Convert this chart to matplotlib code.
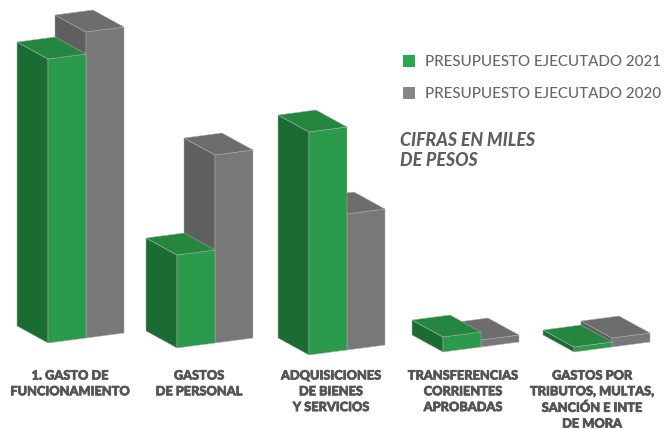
import matplotlib
matplotlib.use("Agg")
import matplotlib.pyplot as plt
import matplotlib.patheffects as pe

# Data (no scale in the picture, so values are bar heights read off it)
categories = ["1. GASTO DE\nFUNCIONAMIENTO", "GASTOS\nDE PERSONAL", "ADQUISICIONES\nDE BIENES\nY SERVICIOS",
              "TRANSFERENCIAS\nCORRIENTES\nAPROBADAS", "GASTOS POR\nTRIBUTOS, MULTAS,\nSANCIÓN E INTE\nDE MORA"]
values_2021 = [284, 93, 223, 15, 5]
values_2020 = [306, 188, 136, 7, 9]
series_names = ["PRESUPUESTO EJECUTADO 2021", "PRESUPUESTO EJECUTADO 2020"]

# Where each group stands on the page
front_x = [48, 177, 309, 443, 574]
front_y = [343, 348, 355, 352, 352]
label_x = [70, 199, 331, 463, 592]
label_y = [369.5, 369.5, 369.5, 369.5, 369.5]

# Box shape in pixels
side = (31, 17)  # front corner to left corner
wide = (38, -5)  # front corner to right corner

green = {"front": "#2b9a4b", "left": "#1b6c32", "top": "#25873f"}
gray = {"front": "#787878", "left": "#5f5f5f", "top": "#6c6d6c"}

plt.rcParams['font.family'] = ['Lato', 'DejaVu Sans']

fig, ax = plt.subplots(figsize=(6.65, 4.29), dpi=100)
ax.set_position([0, 0, 1, 1])
ax.set_xlim(0, 665)
ax.set_ylim(429, 0)  # pixel coordinates, y going down
ax.axis("off")

# thicken the text a bit, the original font is heavier than Lato
heavy = [pe.withStroke(linewidth=0.5, foreground="#555555")]


def draw_box(x, y, height, colors, zorder):
    # x, y = bottom front corner, height = value
    top = y - height
    lx, ly = x - side[0], -side[1]
    rx, ry = x + wide[0], wide[1]
    edge = dict(edgecolor="#a9b0ab", linewidth=0.35, joinstyle="round", zorder=zorder)
    ax.fill([lx, x, x, lx], [y + ly, y, top, top + ly], facecolor=colors["left"], **edge)
    ax.fill([x, rx, rx, x], [y, y + ry, top + ry, top], facecolor=colors["front"], **edge)
    ax.fill([lx, x, rx, rx - side[0]], [top + ly, top, top + ry, top + ry + ly], facecolor=colors["top"], **edge)


for i in range(len(categories)):
    # 2020 box sits behind and to the right of the 2021 box
    draw_box(front_x[i] + wide[0], front_y[i] + wide[1], values_2020[i], gray, 2)
    draw_box(front_x[i], front_y[i], values_2021[i], green, 3)
    ax.text(label_x[i], label_y[i], categories[i], ha="center", va="top", fontsize=9.2,
            fontweight="black", color="#555555", linespacing=1.38, path_effects=heavy)

# Legend
ax.scatter([409], [60.5], marker="s", s=82, color="#2aa84f", linewidths=0)
ax.scatter([409], [92.5], marker="s", s=82, color="#878787", linewidths=0)
ax.text(425, 61.5, series_names[0], va="center", fontsize=10.9, fontweight="medium", color="#666666")
ax.text(425, 93.5, series_names[1], va="center", fontsize=10.9, fontweight="medium", color="#666666")

ax.text(400, 140.5, "CIFRAS EN MILES", va="center", fontsize=12.8, fontweight="black", style="italic", color="#5e5e5e")
ax.text(400, 160.5, "DE PESOS", va="center", fontsize=12.8, fontweight="black", style="italic", color="#5e5e5e")

plt.savefig("out.png", dpi=100)
